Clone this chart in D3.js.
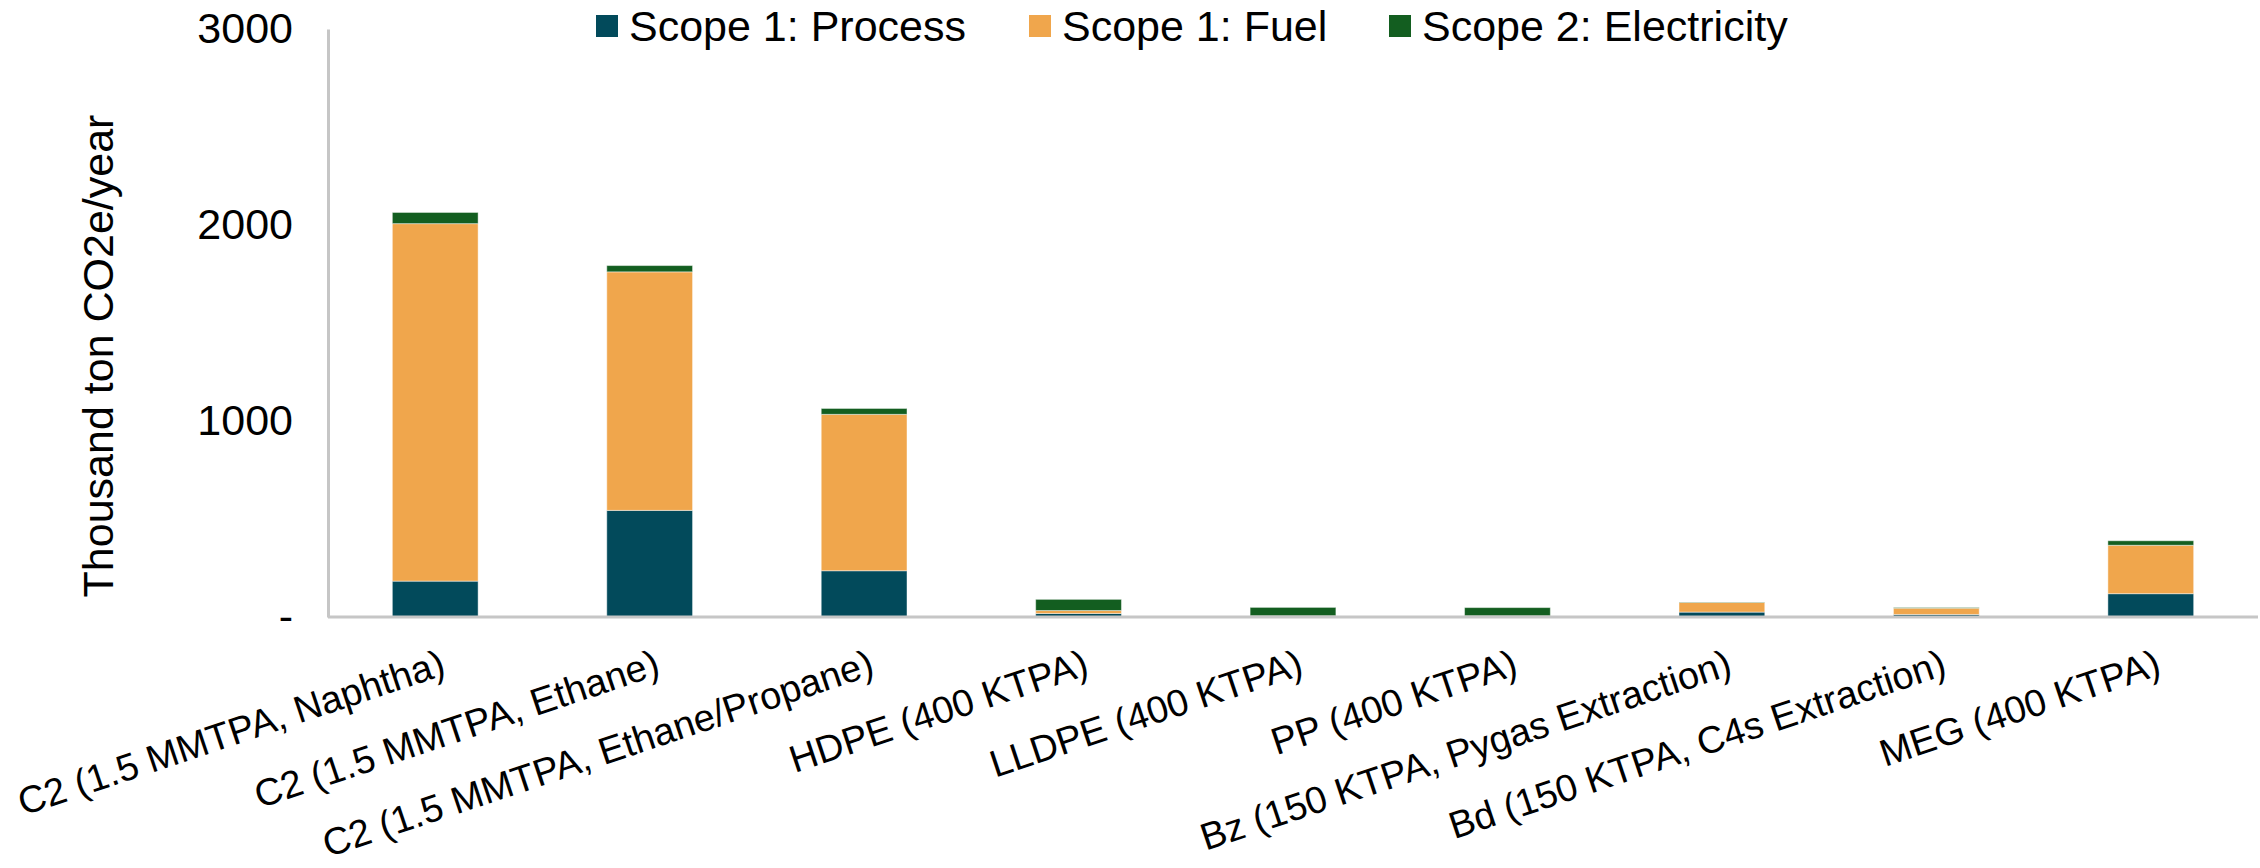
<!DOCTYPE html>
<html>
<head>
<meta charset="utf-8">
<script src="https://cdn.jsdelivr.net/npm/d3@7/dist/d3.min.js"></script>
<style>
  html, body { margin: 0; padding: 0; background: #ffffff; }
  svg { display: block; font-family: "Liberation Sans", Arial, sans-serif; }
</style>
</head>
<body>
<svg id="chart" width="2260" height="868"></svg>
<script>
// Plant categories (x axis)
const categories = [
  "C2 (1.5 MMTPA, Naphtha)",
  "C2 (1.5 MMTPA, Ethane)",
  "C2 (1.5 MMTPA, Ethane/Propane)",
  "HDPE (400 KTPA)",
  "LLDPE (400 KTPA)",
  "PP (400 KTPA)",
  "Bz (150 KTPA, Pygas Extraction)",
  "Bd (150 KTPA, C4s Extraction)",
  "MEG (400 KTPA)"
];

// Emissions by scope, thousand ton CO2e/year
const scope1Process = [183, 544, 236, 18, 4, 1, 25, 13, 119];
const scope1Fuel    = [1824, 1217, 798, 15, 2, 5, 49, 32, 247];
const scope2Elec    = [57, 32, 30, 57, 43, 42, 2, 3, 23];

const seriesNames = ["Scope 1: Process", "Scope 1: Fuel", "Scope 2: Electricity"];
const seriesColors = ["#024A5B", "#F0A64C", "#135E20"];

const yTicks = [0, 1000, 2000, 3000];
const yTitle = "Thousand ton CO2e/year";

// Build rows for the stack layout
const rows = categories.map((c, i) => ({
  category: c,
  [seriesNames[0]]: scope1Process[i],
  [seriesNames[1]]: scope1Fuel[i],
  [seriesNames[2]]: scope2Elec[i]
}));
const stacked = d3.stack().keys(seriesNames)(rows);

const svg = d3.select("#chart");
const plot = { left: 328, right: 2258, top: 29, bottom: 617 };

const x = d3.scaleBand()
  .domain(categories)
  .range([plot.left, plot.right])
  .paddingInner(0.6)
  .paddingOuter(0.3);

const y = d3.scaleLinear()
  .domain([0, 3000])
  .range([plot.bottom, plot.top]);

const color = d3.scaleOrdinal().domain(seriesNames).range(seriesColors);

// Stacked bars
svg.append("g")
  .selectAll("g")
  .data(stacked)
  .join("g")
  .attr("fill", d => color(d.key))
  .selectAll("rect")
  .data(d => d)
  .join("rect")
  .attr("x", d => x(d.data.category))
  .attr("width", x.bandwidth())
  .attr("y", d => y(d[1]))
  .attr("height", d => Math.max(0, y(d[0]) - y(d[1])))
  .attr("stroke", "rgba(255,255,255,0.45)")
  .attr("stroke-width", 1);

// Y axis
const yAxis = svg.append("g")
  .attr("transform", `translate(${plot.left},0)`)
  .call(d3.axisLeft(y)
    .tickValues(yTicks)
    .tickFormat(d => d === 0 ? "-" : String(d))
    .tickSize(0)
    .tickSizeOuter(0)
    .tickPadding(35));
yAxis.select(".domain").attr("stroke", "#C6C6C6").attr("stroke-width", 3);
yAxis.selectAll("text")
  .attr("font-size", 43)
  .attr("fill", "#000")
  .attr("font-family", "Liberation Sans, Arial, sans-serif");

// X axis
const xAxis = svg.append("g")
  .attr("transform", `translate(0,${plot.bottom})`)
  .call(d3.axisBottom(x).tickSize(0).tickSizeOuter(0).tickFormat(d => d));
xAxis.select(".domain").attr("stroke", "#C6C6C6").attr("stroke-width", 3)
  .attr("d", `M${plot.left},0H${plot.right}`);
xAxis.selectAll(".tick text")
  .attr("font-size", 38)
  .attr("fill", "#000")
  .attr("font-family", "Liberation Sans, Arial, sans-serif")
  .attr("text-anchor", "end")
  .attr("dy", 0)
  .attr("y", 0)
  .attr("transform", "translate(12,57) rotate(-18.5)");

// Y axis title
svg.append("text")
  .attr("transform", "translate(113,356) rotate(-90)")
  .attr("text-anchor", "middle")
  .attr("font-size", 43)
  .attr("fill", "#000")
  .text(yTitle);

// Legend
const legendX = [596, 1029, 1389];
const legend = svg.append("g");
seriesNames.forEach((name, i) => {
  legend.append("rect")
    .attr("x", legendX[i])
    .attr("y", 15)
    .attr("width", 22)
    .attr("height", 22)
    .attr("fill", seriesColors[i]);
  legend.append("text")
    .attr("x", legendX[i] + 33)
    .attr("y", 41)
    .attr("font-size", 43)
    .attr("fill", "#000")
    .text(name);
});
</script>
</body>
</html>
